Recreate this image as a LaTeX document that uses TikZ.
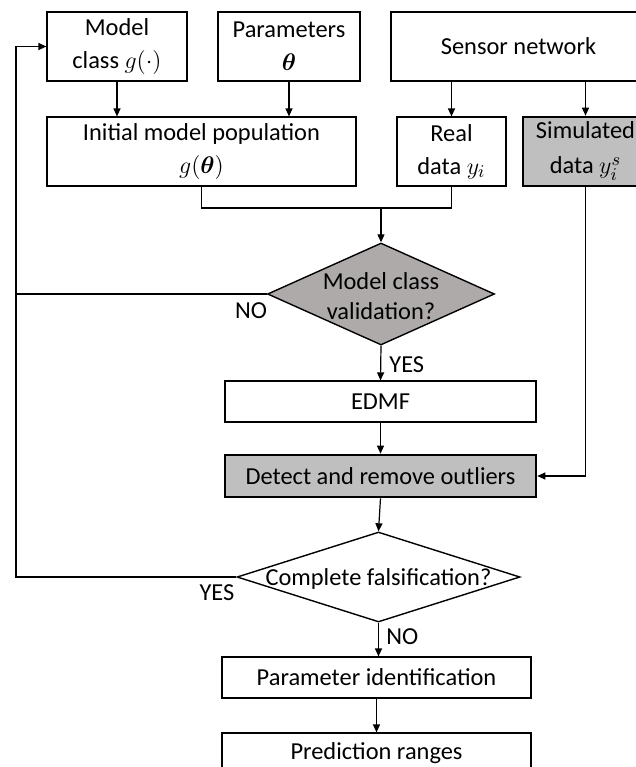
\documentclass[tikz,border=0pt]{standalone}
\usepackage{amsmath,bm}
\usepackage{fontspec}
\setmainfont{Carlito}
\usetikzlibrary{shapes.geometric,arrows.meta}
\definecolor{boxgray}{HTML}{BFBFBF}
\definecolor{diagray}{HTML}{AEAAAA}
\tikzset{
  every node/.append style={font=\fontsize{12.2pt}{15pt}\selectfont},
  stepbox/.style={draw=black,line width=0.6pt,fill=white,rectangle,inner sep=0pt,align=center,minimum height=34.5pt,font=\fontsize{12.2pt}{16.5pt}\selectfont},
  grayboxa/.style={stepbox,fill=boxgray,line width=1.3pt},
  flatbox/.style={stepbox,minimum height=20.5pt},
  decision/.style={draw=black,line width=0.7pt,diamond,inner sep=0pt},
  txt/.style={inner sep=0pt,align=center},
  lbl/.style={inner sep=0pt},
  arr/.style={line width=0.6pt,-{Triangle[length=4pt,width=3.5pt]}},
  ln/.style={line width=0.6pt},
}
\begin{document}
\begin{tikzpicture}[x=0.5pt,y=-0.5pt]
\useasboundingbox (0,0) rectangle (636,767);
% top row
\node[stepbox,minimum width=70pt] (mc) at (117,46.5) {Model\\class $g(\cdot)$};
\node[stepbox,minimum width=71pt] (par) at (289,46.5) {Parameters\\$\bm{\theta}$};
\node[stepbox,minimum width=127.5pt] (sen) at (518.5,46.5) {Sensor network};
% second row
\node[stepbox,minimum width=154.5pt] (init) at (201.5,151.5) {Initial model population\\$g(\bm{\theta})$};
\node[stepbox,minimum width=54.5pt] (real) at (451.5,151.5) {Real\\data $y_i$};
\node[grayboxa,minimum width=62.5pt] (sim) at (585.5,151.5) {Simulated\\[1pt]data $y_i^s$};
% decision 1
\node[decision,fill=diagray,minimum width=113.5pt,minimum height=51pt] (d1) at (381,294) {};
\node[txt] (d1t) at (381,296) {Model class\\validation?};
% middle boxes
\node[flatbox,minimum width=155.5pt] (edmf) at (380.5,401.5) {EDMF};
\node[grayboxa,minimum width=155.5pt,minimum height=21pt] (det) at (380.5,476) {Detect and remove outliers};
% decision 2
\node[decision,fill=white,minimum width=141.5pt,minimum height=45pt] (d2) at (378.5,577) {};
\node[txt] (d2t) at (378.5,579) {Complete falsification?};
% bottom boxes
\node[flatbox,minimum width=154.5pt] (pid) at (376.5,677.5) {Parameter identification};
\node[flatbox,minimum width=154.5pt] (pr) at (376.5,753.5) {Prediction ranges};
% coordinates
\coordinate (m) at (381,208);
\coordinate (lx) at (16,46.5);
% connectors
\draw[arr] (mc.south) -- (mc.south |- init.north);
\draw[arr] (par.south) -- (par.south |- init.north);
\draw[arr] (real.north |- sen.south) -- (real.north);
\draw[arr] (sim.north |- sen.south) -- (sim.north);
\draw[ln] (init.south) |- (m);
\draw[ln] (real.south) |- (m);
\draw[arr] (m) -- (d1.north);
\draw[ln] (d1.west) -- (d1.west -| lx);
\draw[arr] (d2.west) -- (d2.west -| lx) -- (lx) -- (mc.west);
\draw[arr] (d1.south) -- (edmf.north);
\draw[arr] (edmf.south) -- (det.north);
\draw[arr] (sim.south) |- (det.east);
\draw[arr] (det.south) -- (d2.north);
\draw[arr] (d2.south) -- (d2.south |- pid.north);
\draw[arr] (pid.south) -- (pr.north);
% labels
\node[lbl] (no1) at (251,311) {NO};
\node[lbl,anchor=west] (yes1) at (389,365) {YES};
\node[lbl] (yes2) at (217,593) {YES};
\node[lbl,anchor=west] (no2) at (386,637) {NO};
\end{tikzpicture}
\end{document}
